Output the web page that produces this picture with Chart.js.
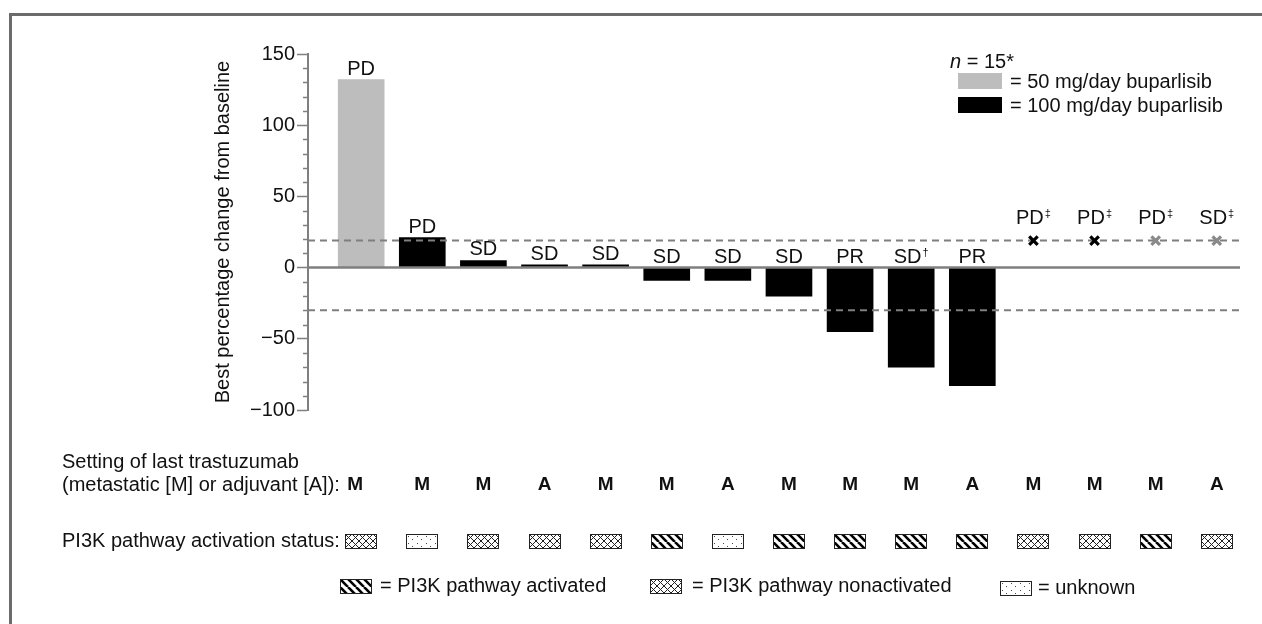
<!DOCTYPE html>
<html>
<head>
<meta charset="utf-8">
<script src="https://cdn.jsdelivr.net/npm/chart.js@4.4.1/dist/chart.umd.min.js"></script>
<style>
  html, body { margin: 0; padding: 0; background: #fff; }
  #wrap { position: relative; width: 1262px; height: 624px; overflow: hidden; }
  #frame { position: absolute; left: 9px; top: 13px; right: -5px; bottom: -10px;
           border-left: 3px solid #6b6b6b; border-top: 3px solid #6b6b6b; }
  canvas { position: absolute; left: 0; top: 0; }
</style>
</head>
<body>
<div id="wrap">
  <div id="frame"></div>
  <canvas id="chart" width="1262" height="624"></canvas>
</div>
<script>
// one entry per patient, left to right
const responses = ["PD", "PD", "SD", "SD", "SD", "SD", "SD", "SD", "PR", "SD", "PR", "PD", "PD", "PD", "SD"];
const footnotes = ["", "", "", "", "", "", "", "", "", "†", "", "‡", "‡", "‡", "‡"];
const bestChange = [132, 21, 5, 2, 2, -9, -9, -20, -45, -70, -83, null, null, null, null];
const doses = [50, 100, 100, 100, 100, 100, 100, 100, 100, 100, 100, 100, 100, 50, 50];
const settings = ["M", "M", "M", "A", "M", "M", "A", "M", "M", "M", "A", "M", "M", "M", "A"];
const pi3kStatus = ["non", "unk", "non", "non", "non", "act", "unk", "act", "act", "act", "act", "non", "non", "act", "non"];
const progressionLine = 19;
const responseLine = -30;
const yMin = -100, yMax = 150;

const FONT = "'Liberation Sans', Arial, Helvetica, sans-serif";
const GREY_BAR = "#bdbdbd";
const GREY_MARK = "#8a8a8a";
const GREY_LINE = "#7f7f7f";

const barData = [];
const markBlack = [];
const markGrey = [];
bestChange.forEach((v, i) => {
  if (v !== null) barData.push({ x: i, y: v });
  else if (doses[i] === 100) markBlack.push({ x: i, y: progressionLine });
  else markGrey.push({ x: i, y: progressionLine });
});

const xMin = -0.87, xMax = 14.38;

function makePattern(kind) {
  const c = document.createElement("canvas");
  const g = c.getContext("2d");
  if (kind === "act") {
    c.width = 8; c.height = 8;
    g.fillStyle = "#fff"; g.fillRect(0, 0, 8, 8);
    g.strokeStyle = "#000"; g.lineWidth = 2.6;
    for (let k = -8; k <= 16; k += 8) {
      g.beginPath(); g.moveTo(k, 0); g.lineTo(k + 8, 8); g.stroke();
    }
  } else if (kind === "non") {
    c.width = 7; c.height = 7;
    g.fillStyle = "#fff"; g.fillRect(0, 0, 7, 7);
    g.strokeStyle = "#222"; g.lineWidth = 1;
    g.beginPath();
    g.moveTo(0, 0); g.lineTo(7, 7);
    g.moveTo(7, 0); g.lineTo(0, 7);
    g.stroke();
  } else {
    c.width = 9; c.height = 7;
    g.fillStyle = "#fff"; g.fillRect(0, 0, 9, 7);
    g.fillStyle = "#444";
    g.fillRect(2, 2, 1, 1);
    g.fillRect(6, 5, 1, 1);
  }
  return c;
}

function drawBox(ctx, kind, x, y, w, h) {
  ctx.save();
  ctx.translate(x, y);
  ctx.fillStyle = ctx.createPattern(makePattern(kind), "repeat");
  ctx.fillRect(0, 0, w, h);
  ctx.strokeStyle = "#222";
  ctx.lineWidth = 1;
  ctx.strokeRect(0.5, 0.5, w - 1, h - 1);
  ctx.restore();
}

function labelWithMark(ctx, text, mark, cx, baseY) {
  ctx.font = "20px " + FONT;
  const w1 = ctx.measureText(text).width;
  ctx.font = "11px " + FONT;
  const w2 = mark ? ctx.measureText(mark).width + 1 : 0;
  const left = cx - (w1 + w2) / 2;
  ctx.font = "20px " + FONT;
  ctx.textAlign = "left";
  ctx.textBaseline = "alphabetic";
  ctx.fillText(text, left, baseY);
  if (mark) {
    ctx.font = "11px " + FONT;
    ctx.fillText(mark, left + w1 + 1, baseY - 7);
  }
}

const annotations = {
  id: "annotations",
  afterDatasetsDraw(chart) {
    const ctx = chart.ctx;
    const xs = chart.scales.x, ys = chart.scales.y;
    const zero = ys.getPixelForValue(0);
    ctx.save();
    ctx.fillStyle = "#111";

    // minor ticks on the y axis
    ctx.strokeStyle = GREY_LINE;
    ctx.lineWidth = 1.5;
    for (let v = yMin; v <= yMax; v += 10) {
      if (v % 50 === 0) continue;
      const py = Math.round(ys.getPixelForValue(v)) + 0.5;
      ctx.beginPath(); ctx.moveTo(ys.right - 5, py); ctx.lineTo(ys.right, py); ctx.stroke();
    }

    // response labels above bars / markers
    const bars = chart.getDatasetMeta(0).data;
    let b = 0;
    responses.forEach((r, i) => {
      const cx = xs.getPixelForValue(i);
      let baseY;
      if (bestChange[i] !== null) {
        const el = bars[b++];
        baseY = Math.min(el.y, zero) - 5;
      } else {
        baseY = ys.getPixelForValue(progressionLine) - 17;
      }
      labelWithMark(ctx, r, footnotes[i], cx, baseY);
    });

    // legend top right
    ctx.textBaseline = "alphabetic";
    ctx.textAlign = "left";
    ctx.font = "italic 20px " + FONT;
    ctx.fillText("n", 950, 68);
    const nw = ctx.measureText("n").width;
    ctx.font = "20px " + FONT;
    ctx.fillText(" = 15*", 950 + nw, 68);
    ctx.fillStyle = GREY_BAR;
    ctx.fillRect(958, 73, 44, 16);
    ctx.fillStyle = "#000";
    ctx.fillRect(958, 97, 44, 16);
    ctx.fillStyle = "#111";
    ctx.textBaseline = "middle";
    ctx.fillText("= 50 mg/day buparlisib", 1010, 82);
    ctx.fillText("= 100 mg/day buparlisib", 1010, 106);

    // trastuzumab setting row
    ctx.textBaseline = "middle";
    ctx.textAlign = "left";
    ctx.font = "20px " + FONT;
    ctx.fillText("Setting of last trastuzumab", 62, 462);
    ctx.fillText("(metastatic [M] or adjuvant [A]):", 62, 485);
    ctx.textAlign = "center";
    ctx.font = "bold 19px " + FONT;
    settings.forEach((s, i) => ctx.fillText(s, xs.getPixelForValue(i) - (i === 0 ? 6 : 0), 485));

    // PI3K row
    ctx.textAlign = "left";
    ctx.font = "20px " + FONT;
    ctx.fillText("PI3K pathway activation status:", 62, 541);
    pi3kStatus.forEach((k, i) => {
      const cx = xs.getPixelForValue(i);
      drawBox(ctx, k, Math.round(cx - 16), 534, 32, 15);
    });

    // PI3K legend
    drawBox(ctx, "act", 340, 579, 32, 15);
    ctx.fillStyle = "#111";
    ctx.fillText("= PI3K pathway activated", 380, 586);
    drawBox(ctx, "non", 650, 579, 32, 15);
    ctx.fillStyle = "#111";
    ctx.fillText("= PI3K pathway nonactivated", 692, 586);
    drawBox(ctx, "unk", 1000, 581, 32, 15);
    ctx.fillStyle = "#111";
    ctx.fillText("= unknown", 1038, 588);
    ctx.restore();
  }
};

new Chart(document.getElementById("chart"), {
  data: {
    datasets: [
      {
        type: "bar",
        data: barData,
        backgroundColor: barData.map(p => doses[p.x] === 50 ? GREY_BAR : "#000"),
        barThickness: 46,
        order: 3
      },
      {
        type: "line",
        data: [{ x: xMin, y: 0 }, { x: xMax, y: 0 }],
        borderColor: GREY_LINE, borderWidth: 2.5, pointRadius: 0, order: 2
      },
      {
        type: "line",
        data: [{ x: xMin, y: progressionLine }, { x: xMax + 0.1, y: progressionLine }],
        borderColor: GREY_LINE, borderWidth: 2, borderDash: [7, 5], pointRadius: 0, order: 1
      },
      {
        type: "line",
        data: [{ x: xMin, y: responseLine }, { x: xMax + 0.1, y: responseLine }],
        borderColor: GREY_LINE, borderWidth: 2, borderDash: [7, 5], pointRadius: 0, order: 1
      },
      {
        type: "scatter",
        data: markBlack,
        pointStyle: "crossRot", pointRadius: 6, borderWidth: 3.2,
        borderColor: "#000", order: 0
      },
      {
        type: "scatter",
        data: markGrey,
        pointStyle: "crossRot", pointRadius: 6, borderWidth: 3.2,
        borderColor: GREY_MARK, order: 0
      }
    ]
  },
  options: {
    responsive: false,
    animation: false,
    devicePixelRatio: 1,
    layout: { padding: { left: 200, right: 22, top: 54, bottom: 214 } },
    plugins: { legend: { display: false }, tooltip: { enabled: false } },
    scales: {
      x: { type: "linear", min: xMin, max: xMax, offset: false, display: false },
      y: {
        min: yMin, max: yMax,
        afterFit: (s) => { s.width = 108; },
        border: { color: GREY_LINE, width: 2 },
        grid: {
          drawOnChartArea: false, drawTicks: true, tickLength: 11,
          tickColor: (c) => c.tick && c.tick.value % 50 === 0 ? GREY_LINE : "rgba(0,0,0,0)",
          tickWidth: 1.5
        },
        ticks: {
          stepSize: 10, autoSkip: false, padding: 2,
          color: "#111", font: { family: FONT, size: 20 },
          callback: (v) => v % 50 === 0 ? String(v).replace("-", "\u2212") : ""
        },
        title: {
          display: true, text: "Best percentage change from baseline",
          color: "#111", font: { family: FONT, size: 20 }, padding: { top: 11, bottom: 0 }
        }
      }
    }
  },
  plugins: [annotations]
});
</script>
</body>
</html>
